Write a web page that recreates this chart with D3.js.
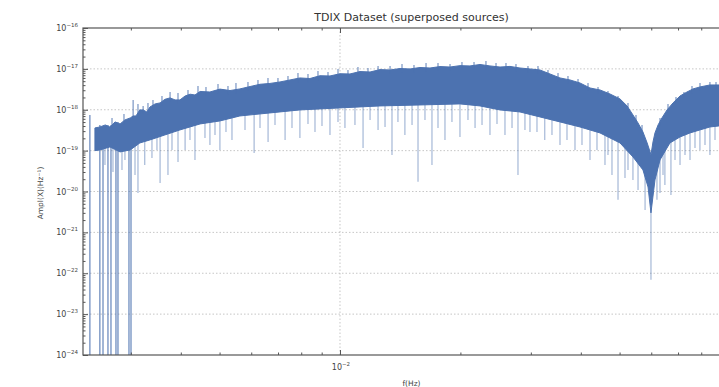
<!DOCTYPE html>
<html><head><meta charset="utf-8">
<script src="https://cdn.jsdelivr.net/npm/d3@7"></script>
<style>
body{margin:0;background:#fff;overflow:hidden;}
svg{display:block;font-family:"DejaVu Sans",sans-serif;}
</style></head><body>
<svg id="chart" width="719" height="387"></svg>
<script>
// Upper edge of the dense spectrum band (frequency in Hz, amplitude in Hz^-1)
const upperFreq = [2.44e-3,2.51e-3,2.59e-3,2.66e-3,2.74e-3,2.82e-3,2.90e-3,2.99e-3,3.04e-3,3.09e-3,3.16e-3,3.22e-3,3.29e-3,3.35e-3,3.45e-3,3.55e-3,3.65e-3,3.76e-3,3.87e-3,3.98e-3,4.10e-3,4.22e-3,4.34e-3,4.47e-3,4.73e-3,5.01e-3,5.31e-3,5.62e-3,5.96e-3,6.31e-3,6.68e-3,7.08e-3,7.50e-3,7.94e-3,8.41e-3,8.91e-3,9.44e-3,1.000e-2,1.059e-2,1.122e-2,1.189e-2,1.259e-2,1.334e-2,1.413e-2,1.496e-2,1.585e-2,1.679e-2,1.778e-2,1.884e-2,1.995e-2,2.113e-2,2.239e-2,2.371e-2,2.512e-2,2.661e-2,2.818e-2,2.985e-2,3.162e-2,3.350e-2,3.548e-2,3.758e-2,3.981e-2,4.217e-2,4.467e-2,4.732e-2,5.012e-2,5.22e-2,5.40e-2,5.56e-2,5.72e-2,5.86e-2,5.96e-2,5.99e-2,6.06e-2,6.13e-2,6.24e-2,6.38e-2,6.57e-2,6.80e-2,7.08e-2,7.37e-2,7.63e-2,7.94e-2,8.41e-2,8.86e-2,1.0e-1];
const upperAmp = [3.59e-19,3.79e-19,4.25e-19,3.79e-19,5.04e-19,4.50e-19,5.64e-19,6.31e-19,7.05e-19,7.05e-19,9.9e-19,9.9e-19,8.83e-19,1.17e-18,1.39e-18,1.47e-18,1.80e-18,1.95e-18,1.74e-18,1.74e-18,2.17e-18,2.40e-18,2.30e-18,2.80e-18,2.72e-18,3.20e-18,2.95e-18,3.23e-18,3.70e-18,4.20e-18,4.40e-18,4.79e-18,5.36e-18,6.0e-18,5.8e-18,6.8e-18,6.70e-18,7.6e-18,7.50e-18,8.6e-18,8.39e-18,9.6e-18,9.40e-18,1.02e-17,9.95e-18,1.08e-17,1.05e-17,1.14e-17,1.11e-17,1.20e-17,1.18e-17,1.28e-17,1.18e-17,1.11e-17,1.15e-17,1.05e-17,9.95e-18,9.40e-18,7.50e-18,6.0e-18,5.36e-18,4.52e-18,3.41e-18,3.05e-18,2.43e-18,1.84e-18,1.24e-18,7.46e-19,4.75e-19,2.86e-19,1.54e-19,9.3e-20,7.85e-20,1.63e-19,2.71e-19,4.25e-19,6.31e-19,9.9e-19,1.47e-18,2.17e-18,2.72e-18,3.23e-18,3.61e-18,4.04e-18,4.04e-18,4.04e-18];

// Lower edge of the dense band
const lowerFreq = [2.44e-3,2.51e-3,2.66e-3,2.82e-3,2.99e-3,3.16e-3,3.35e-3,3.65e-3,3.98e-3,4.47e-3,5.01e-3,5.62e-3,6.68e-3,7.94e-3,1.0e-2,1.259e-2,1.585e-2,1.995e-2,2.239e-2,2.512e-2,2.818e-2,3.162e-2,3.548e-2,3.981e-2,4.467e-2,5.012e-2,5.40e-2,5.72e-2,5.89e-2,5.99e-2,6.13e-2,6.31e-2,6.68e-2,7.08e-2,7.50e-2,7.94e-2,8.41e-2,8.86e-2,1.0e-1];
const lowerAmp = [1.0e-19,1.04e-19,1.23e-19,9.3e-20,1.04e-19,1.54e-19,1.83e-19,2.42e-19,3.21e-19,4.50e-19,5.32e-19,7.05e-19,8.36e-19,9.9e-19,1.11e-18,1.24e-18,1.31e-18,1.39e-18,1.24e-18,9.9e-19,8.83e-19,6.67e-19,5.04e-19,3.79e-19,2.71e-19,1.54e-19,7.01e-20,3.37e-20,1.29e-20,3.0e-21,1.92e-20,5.93e-20,1.54e-19,2.16e-19,2.71e-19,3.21e-19,3.79e-19,4.02e-19,4.25e-19];

// Single-bin dips below the band
const dipFreq = [2.851e-3,3.126e-3,3.25e-3,3.55e-3,3.715e-3,4.10e-3,4.34e-3,4.73e-3,5.01e-3,5.37e-3,6.10e-3,6.61e-3,7.29e-3,7.94e-3,8.66e-3,9.44e-3,1.029e-2,1.142e-2,1.245e-2,1.349e-2,1.453e-2,1.567e-2,1.698e-2,1.830e-2,1.995e-2,2.176e-2,2.371e-2,2.585e-2,2.786e-2,2.985e-2,3.25e-2,3.548e-2,3.868e-2,4.217e-2,4.597e-2,4.786e-2,4.955e-2,5.158e-2,5.56e-2,5.79e-2,5.99e-2,6.20e-2,6.31e-2,6.49e-2,6.72e-2,7.08e-2,7.50e-2,7.94e-2,8.41e-2,
  2.585e-3,2.707e-3,2.900e-3,3.073e-3,3.388e-3,3.487e-3,3.802e-3,3.936e-3,4.217e-3,4.597e-3,4.870e-3,5.188e-3,5.788e-3,6.310e-3,6.879e-3,7.586e-3,8.318e-3,9.016e-3,9.886e-3,1.090e-2,1.189e-2,1.296e-2,1.396e-2,1.514e-2,1.631e-2,1.758e-2,1.905e-2,2.089e-2,2.265e-2,2.469e-2,2.692e-2,2.900e-2,3.108e-2,3.388e-2,3.694e-2,4.027e-2,4.390e-2,4.677e-2,5.248e-2,5.40e-2,6.420e-2,6.879e-2,7.286e-2,7.718e-2,8.175e-2,8.660e-2];
const dipAmp = [3.37e-20,9.25e-21,4.47e-20,1.62e-20,2.55e-20,1.04e-19,5.93e-20,1.38e-19,1.04e-19,1.83e-19,8.79e-20,1.63e-19,1.83e-19,2.05e-19,2.86e-19,2.42e-19,3.59e-19,1.16e-19,3.21e-19,7.85e-20,2.42e-19,1.72e-20,4.47e-20,1.83e-19,2.16e-19,3.59e-19,2.42e-19,2.42e-19,2.55e-20,2.86e-19,1.83e-19,1.38e-19,1.04e-19,5.93e-20,4.47e-20,2.55e-20,6.24e-21,2.15e-20,1.09e-20,3.55e-21,6.9e-23,6.24e-21,9.25e-21,1.45e-20,8.26e-21,4.47e-20,5.93e-20,1.04e-19,7.85e-20,
  4.47e-20,3.01e-20,5.93e-20,2.55e-20,6.64e-20,1.04e-19,1.04e-19,5.30e-20,1.83e-19,2.05e-19,2.42e-19,2.86e-19,3.21e-19,3.59e-19,4.25e-19,3.59e-19,4.50e-19,4.02e-19,5.04e-19,4.25e-19,5.64e-19,3.79e-19,5.04e-19,4.25e-19,5.64e-19,3.59e-19,5.04e-19,5.64e-19,4.25e-19,4.50e-19,3.59e-19,3.21e-19,2.86e-19,2.42e-19,1.83e-19,1.38e-19,1.04e-19,7.85e-20,3.37e-20,1.92e-20,2.55e-20,5.93e-20,7.85e-20,1.16e-19,1.38e-19,1.83e-19];

// Single-bin peaks rising above the band
const peakFreq = [2.692e-3,2.884e-3,3.04e-3,3.126e-3,3.22e-3,3.311e-3,3.408e-3,3.589e-3,3.76e-3,3.936e-3,4.169e-3,4.416e-3,4.624e-3,4.955e-3,5.248e-3,5.495e-3,5.888e-3,6.237e-3,6.607e-3,6.998e-3,7.413e-3,7.852e-3,8.318e-3,8.810e-3,9.333e-3,9.886e-3,1.047e-2,1.109e-2,1.175e-2,1.245e-2,1.334e-2,1.429e-2,1.531e-2,1.641e-2,1.758e-2,1.884e-2,2.018e-2,2.163e-2,2.317e-2,2.455e-2,2.600e-2,2.754e-2,2.951e-2,3.126e-2,3.311e-2,3.508e-2,3.715e-2,3.936e-2,4.169e-2,4.416e-2,4.677e-2,4.955e-2,5.248e-2,5.495e-2,5.689e-2,6.31e-2,6.607e-2,6.918e-2,7.244e-2,7.586e-2,7.943e-2,8.41e-2,8.710e-2];
const peakAmp = [6.31e-19,7.89e-19,1.74e-18,1.39e-18,1.24e-18,1.47e-18,1.74e-18,2.17e-18,2.72e-18,2.58e-18,3.05e-18,3.82e-18,3.61e-18,4.28e-18,3.82e-18,4.52e-18,4.79e-18,5.36e-18,6.0e-18,6.0e-18,6.70e-18,7.94e-18,7.50e-18,8.89e-18,8.39e-18,9.95e-18,9.40e-18,1.11e-17,1.05e-17,1.18e-17,1.18e-17,1.32e-17,1.24e-17,1.39e-17,1.39e-17,1.32e-17,1.48e-17,1.48e-17,1.56e-17,1.39e-17,1.39e-17,1.32e-17,1.18e-17,1.18e-17,9.40e-18,7.94e-18,6.70e-18,5.66e-18,4.52e-18,3.61e-18,2.88e-18,2.17e-18,1.47e-18,7.46e-19,4.25e-19,6.31e-19,1.39e-18,2.06e-18,2.72e-18,3.82e-18,4.52e-18,4.79e-18,4.79e-18];

// Low-frequency bins that drop to (numerically) zero: peak amplitude of each
const dropFreq = [2.37e-3,2.51e-3,2.556e-3,2.63e-3,2.676e-3,2.754e-3,2.786e-3,2.968e-3,3.003e-3];
const dropAmp = [7.46e-19,4.25e-19,3.79e-19,4.25e-19,4.25e-19,5.04e-19,5.04e-19,5.64e-19,6.31e-19];

const yTickExp = [-24,-23,-22,-21,-20,-19,-18,-17,-16];
const xTickExp = [-2];
const titleText = "TDIX Dataset (superposed sources)";
const xLabelText = "f(Hz)";
const yLabelText = "Ampl(X)(Hz\u207B\u00B9)";

const blue = "#4C72B0";
const plot = {left: 83, right: 740, top: 28, bottom: 355};

const x = d3.scaleLog().domain([2.278e-3, 0.1]).range([plot.left, plot.right]);
const y = d3.scaleLog().domain([1e-24, 1e-16]).range([plot.bottom, plot.top]);

const svg = d3.select("#chart");
svg.append("defs").append("clipPath").attr("id", "plotClip")
  .append("rect").attr("x", plot.left).attr("y", plot.top)
  .attr("width", plot.right - plot.left).attr("height", plot.bottom - plot.top);

// grid
const yMajors = yTickExp.map(e => Math.pow(10, e));
const xMajors = xTickExp.map(e => Math.pow(10, e));
const grid = svg.append("g").attr("stroke", "#b8b8b8").attr("stroke-width", 0.8).attr("stroke-dasharray", "1.5,2");
grid.selectAll("line.h").data(yMajors.slice(1, -1)).join("line").attr("class", "h")
  .attr("x1", plot.left).attr("x2", plot.right).attr("y1", d => y(d)).attr("y2", d => y(d));
grid.selectAll("line.v").data(xMajors).join("line").attr("class", "v")
  .attr("x1", d => x(d)).attr("x2", d => x(d)).attr("y1", plot.top).attr("y2", plot.bottom);

const data = svg.append("g").attr("clip-path", "url(#plotClip)");

// band edges as functions of frequency (interpolated in log amplitude)
const bandLowLog = d3.scaleLog().domain(lowerFreq).range(lowerAmp.map(Math.log10));
const bandHighLog = d3.scaleLog().domain(upperFreq).range(upperAmp.map(Math.log10));

// dips: from inside the band down to each dip value
data.append("g").attr("stroke", blue).attr("stroke-width", 1.2).attr("stroke-opacity", 0.5)
  .selectAll("line").data(dipFreq).join("line")
  .attr("x1", d => x(d)).attr("x2", d => x(d))
  .attr("y1", (d, i) => y(dipAmp[i]))
  .attr("y2", d => y(Math.pow(10, bandLowLog(d))) - 4);

// zero-valued bins: lines from their peak down past the axis floor
data.append("g").attr("stroke", blue).attr("stroke-width", 1.3).attr("stroke-opacity", 0.8)
  .selectAll("line").data(dropFreq).join("line")
  .attr("x1", d => x(d)).attr("x2", d => x(d))
  .attr("y1", (d, i) => y(dropAmp[i]))
  .attr("y2", plot.bottom + 5);

// dense band
const upperPts = upperFreq.map((f, i) => [x(f), y(upperAmp[i])]);
const lowerPts = lowerFreq.map((f, i) => [x(f), y(lowerAmp[i])]).reverse();
data.append("path")
  .attr("d", d3.line()(upperPts.concat(lowerPts)) + "Z")
  .attr("fill", blue).attr("stroke", blue).attr("stroke-width", 1).attr("stroke-linejoin", "round");

// peaks: from inside the band up to each peak value
data.append("g").attr("stroke", blue).attr("stroke-width", 1.2).attr("stroke-opacity", 0.75)
  .selectAll("line").data(peakFreq).join("line")
  .attr("x1", d => x(d)).attr("x2", d => x(d))
  .attr("y1", (d, i) => y(peakAmp[i]))
  .attr("y2", d => y(Math.pow(10, bandHighLog(d))) + 4);

// axes
const minorY = [];
for (let e = -24; e < -16; e++) for (let k = 2; k <= 9; k++) minorY.push(k * Math.pow(10, e));
const minorX = [];
for (let k = 3; k <= 9; k++) minorX.push(k * 1e-3);
for (let k = 2; k <= 9; k++) minorX.push(k * 1e-2);

function tickGroup(axis, tx, ty) {
  const g = svg.append("g").attr("transform", `translate(${tx},${ty})`).call(axis);
  g.select(".domain").remove();
  g.selectAll("line").attr("stroke", "#555");
  return g;
}
tickGroup(d3.axisLeft(y).tickValues(yMajors).tickSize(-5).tickFormat(""), plot.left, 0);
tickGroup(d3.axisLeft(y).tickValues(minorY).tickSize(-2.5).tickFormat(""), plot.left, 0);
tickGroup(d3.axisBottom(x).tickValues(xMajors).tickSize(-5).tickFormat(""), 0, plot.bottom);
tickGroup(d3.axisBottom(x).tickValues(minorX).tickSize(-2.5).tickFormat(""), 0, plot.bottom);
tickGroup(d3.axisTop(x).tickValues(xMajors).tickSize(-5).tickFormat(""), 0, plot.top);
tickGroup(d3.axisTop(x).tickValues(minorX).tickSize(-2.5).tickFormat(""), 0, plot.top);

// frame
svg.append("rect").attr("x", plot.left).attr("y", plot.top)
  .attr("width", plot.right - plot.left).attr("height", plot.bottom - plot.top)
  .attr("fill", "none").attr("stroke", "#555").attr("stroke-width", 1.2);

// tick labels
const yLab = svg.append("g").attr("fill", "#444").attr("font-size", 8).attr("text-anchor", "end");
yTickExp.forEach(e => {
  const t = yLab.append("text").attr("x", plot.left - 5).attr("y", y(Math.pow(10, e)) + 3);
  t.append("tspan").text("10");
  t.append("tspan").attr("font-size", 5.5).attr("dy", -4).text("\u2212" + Math.abs(e));
});
const xLab = svg.append("g").attr("fill", "#444").attr("font-size", 8).attr("text-anchor", "middle");
xTickExp.forEach(e => {
  const t = xLab.append("text").attr("x", x(Math.pow(10, e)) + 1).attr("y", plot.bottom + 15);
  t.append("tspan").text("10");
  t.append("tspan").attr("font-size", 5.5).attr("dy", -4).text("\u2212" + Math.abs(e));
});

// titles
svg.append("text").attr("x", (plot.left + plot.right) / 2).attr("y", 21)
  .attr("text-anchor", "middle").attr("font-size", 11).attr("fill", "#333").text(titleText);
svg.append("text").attr("x", (plot.left + plot.right) / 2).attr("y", 386)
  .attr("text-anchor", "middle").attr("font-size", 7.5).attr("fill", "#444").text(xLabelText);
svg.append("text").attr("transform", "translate(43,193) rotate(-90)")
  .attr("text-anchor", "middle").attr("font-size", 7.5).attr("fill", "#444").text(yLabelText);
</script>
</body></html>
